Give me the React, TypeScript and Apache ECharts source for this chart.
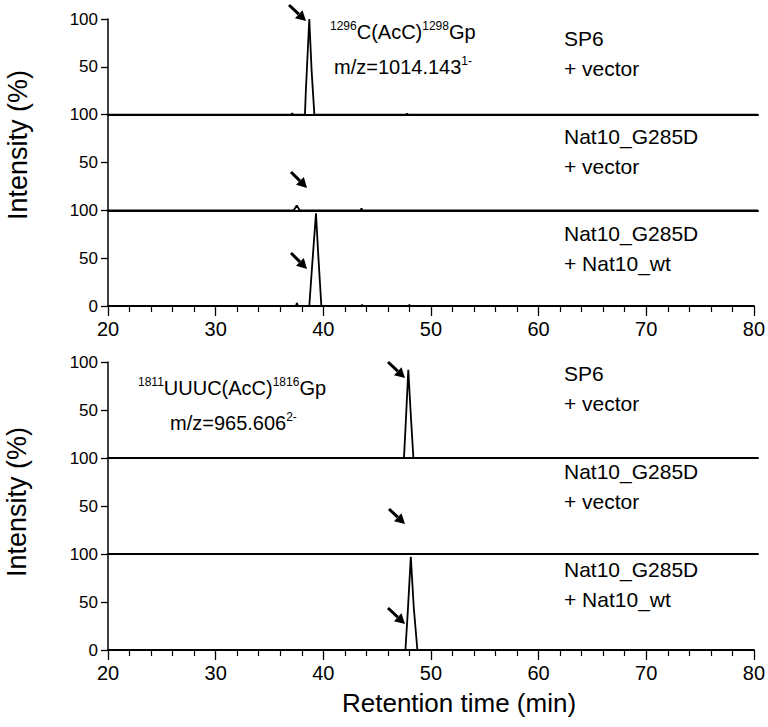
import React, { useEffect, useRef } from "react";
import * as echarts from "echarts";

// Retention time (min) / relative intensity (%) pairs
const topSp6Vector = [[20, 0], [36.9, 0], [37.0, 1.5], [37.1, 0], [38.18, 0], [38.26, 24], [38.58, 100], [38.8, 45], [39.05, 0], [47.5, 0], [47.6, 1], [47.7, 0], [80, 0]];
const topG285DVector = [[20, 0], [37.15, 0], [37.42, 5], [37.7, 0], [43.3, 0], [43.4, 2], [43.5, 0], [80, 0]];
const topG285DWt = [[20, 0], [37.45, 0], [37.55, 3], [37.65, 0], [38.7, 0], [38.95, 40], [39.32, 97], [39.55, 50], [39.82, 0], [43.5, 0], [43.6, 1], [43.7, 0], [47.9, 0], [48.0, 1], [48.1, 0], [80, 0]];
const botSp6Vector = [[20, 0], [47.32, 0], [47.5, 40], [47.72, 92], [47.95, 45], [48.19, 0], [80, 0]];
const botG285DVector = [[20, 0], [80, 0]];
const botG285DWt = [[20, 0], [47.63, 0], [47.85, 40], [48.13, 97], [48.4, 45], [48.74, 0], [80, 0]];

const traces = [topSp6Vector, topG285DVector, topG285DWt, botSp6Vector, botG285DVector, botG285DWt];
const xTicks = [20, 80, 10];
const yTicks = [0, 100, 50];

const sampleTop = ["SP6", "+ vector", "Nat10_G285D", "+ vector", "Nat10_G285D", "+ Nat10_wt"];
const sampleBottom = ["SP6", "+ vector", "Nat10_G285D", "+ vector", "Nat10_G285D", "+ Nat10_wt"];

const FONT = "'Liberation Sans', Arial, Helvetica, sans-serif";

export default function App() {
  const ref = useRef<HTMLDivElement>(null);
  useEffect(() => {
    if (!ref.current) return;
    const chart = echarts.init(ref.current, null, { renderer: "svg" });
    const gridTops = [19, 114.67, 210.33, 362, 458, 554];
    const gridH = [95.67, 95.67, 95.67, 96, 96, 96];
    const isBottom = (i: number) => i === 2 || i === 5;

    const grids = gridTops.map((t, i) => ({ left: 108, width: 650, top: t, height: gridH[i] }));
    const xAxes = gridTops.map((_, i) => ({
      type: "value",
      gridIndex: i,
      min: xTicks[0],
      max: xTicks[1],
      interval: xTicks[2],
      axisLine: { show: true, onZero: false, lineStyle: { color: "#000", width: 2 } },
      axisTick: { show: isBottom(i), length: 10, lineStyle: { color: "#000", width: 1.3 } },
      minorTick: { show: isBottom(i), splitNumber: 5, length: 6, lineStyle: { color: "#000", width: 1.2 } },
      axisLabel: { show: isBottom(i), fontSize: 20, color: "#000", margin: 13, fontFamily: FONT },
      splitLine: { show: false },
    }));
    const yAxes = gridTops.map((_, i) => ({
      type: "value",
      gridIndex: i,
      min: yTicks[0],
      max: yTicks[1],
      interval: yTicks[2],
      axisLine: { show: true, lineStyle: { color: "#000", width: 1.5 } },
      axisTick: { show: true, length: 7, lineStyle: { color: "#000", width: 1.3 } },
      axisLabel: { fontSize: 17, color: "#000", margin: 10, fontFamily: FONT, showMinLabel: isBottom(i) },
      splitLine: { show: false },
    }));
    const series = traces.map((d, i) => ({
      type: "line",
      xAxisIndex: i,
      yAxisIndex: i,
      data: d,
      showSymbol: false,
      symbol: "none",
      lineStyle: { color: "#000", width: 1.8 },
      clip: false,
    }));

    const arrow = (x1: number, y1: number, x2: number, y2: number) => {
      const ang = Math.atan2(y2 - y1, x2 - x1);
      const hl = 10, hw = 5.5;
      const bx = x2 - hl * Math.cos(ang), by = y2 - hl * Math.sin(ang);
      const px = -Math.sin(ang) * hw, py = Math.cos(ang) * hw;
      return {
        type: "group",
        children: [
          { type: "line", shape: { x1, y1, x2: bx, y2: by }, style: { stroke: "#000", lineWidth: 3 } },
          { type: "polygon", shape: { points: [[x2, y2], [bx + px, by + py], [bx - px, by - py]] }, style: { fill: "#000" } },
        ],
      };
    };

    const label = (text: string, x: number, y: number) => ({
      type: "text", x, y,
      style: { text, fontSize: 21, fill: "#000", fontFamily: FONT, align: "left", verticalAlign: "middle" },
    });

    const topLabelY = [38, 68, 136, 166, 233, 263];
    const botLabelY = [373, 403, 471, 501, 569, 599];

    const rich = {
      s: { fontSize: 12, fill: "#000", fontFamily: FONT, verticalAlign: "top", lineHeight: 24 },
      m: { fontSize: 20, fill: "#000", fontFamily: FONT, lineHeight: 24 },
    };

    const graphic: any[] = [
      arrow(289, 5, 306, 21),
      arrow(291, 172, 307, 188),
      arrow(291, 253, 307, 269),
      arrow(388, 362, 405, 378),
      arrow(389, 509, 405, 524),
      arrow(388, 608, 405, 624),
      ...sampleTop.map((t, i) => label(t, 564, topLabelY[i])),
      ...sampleBottom.map((t, i) => label(t, 564, botLabelY[i])),
      { type: "text", x: 330, y: 20, style: { text: "{s|1296}{m|C(AcC)}{s|1298}{m|Gp}", rich, align: "left", verticalAlign: "top" } },
      { type: "text", x: 334, y: 55, style: { text: "{m|m/z=1014.143}{s|1-}", rich, align: "left", verticalAlign: "top" } },
      { type: "text", x: 138, y: 376, style: { text: "{s|1811}{m|UUUC(AcC)}{s|1816}{m|Gp}", rich, align: "left", verticalAlign: "top" } },
      { type: "text", x: 170, y: 411, style: { text: "{m|m/z=965.606}{s|2-}", rich, align: "left", verticalAlign: "top" } },
      { type: "text", x: 18, y: 145, rotation: Math.PI / 2, style: { text: "Intensity (%)", fontSize: 27, fill: "#000", fontFamily: FONT, align: "center", verticalAlign: "middle" } },
      { type: "text", x: 17, y: 502, rotation: Math.PI / 2, style: { text: "Intensity (%)", fontSize: 27, fill: "#000", fontFamily: FONT, align: "center", verticalAlign: "middle" } },
      { type: "text", x: 459, y: 703, style: { text: "Retention time (min)", fontSize: 26, fill: "#000", fontFamily: FONT, align: "center", verticalAlign: "middle" } },
    ];

    chart.setOption({
      animation: false,
      backgroundColor: "#fff",
      grid: grids,
      xAxis: xAxes,
      yAxis: yAxes,
      series,
      graphic,
    } as any);
    return () => chart.dispose();
  }, []);
  return <div ref={ref} style={{ position: "fixed", left: 0, top: 0, width: 768, height: 727 }} />;
}
